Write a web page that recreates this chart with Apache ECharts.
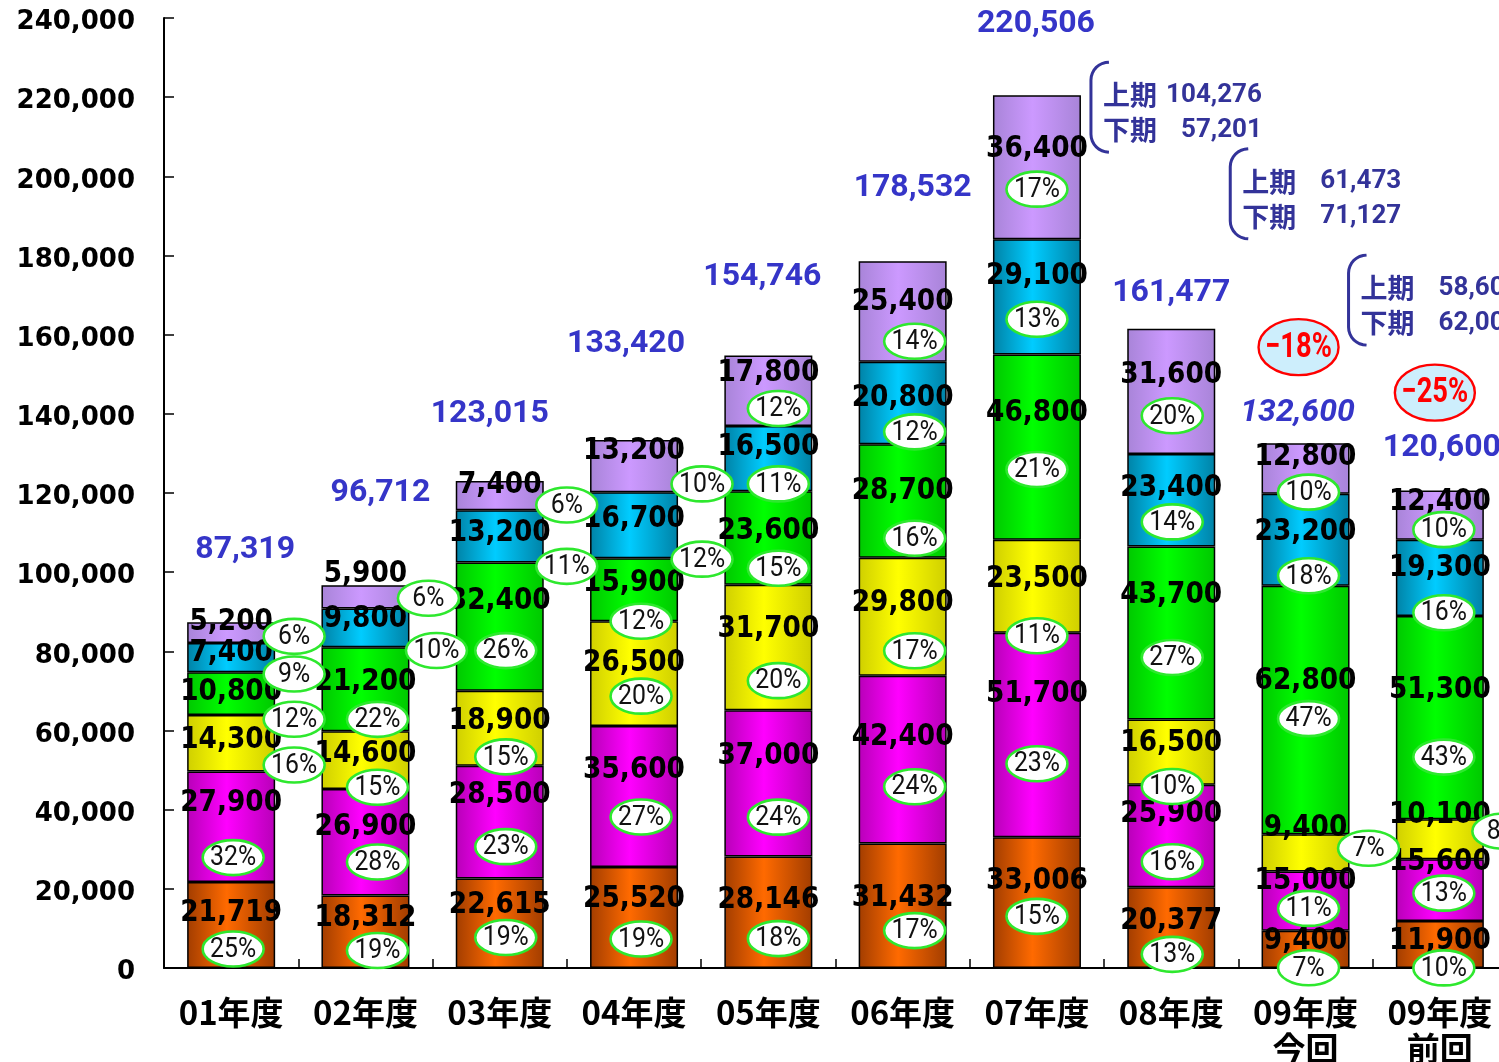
<!DOCTYPE html>
<html><head><meta charset="utf-8">
<script src="https://cdn.jsdelivr.net/npm/echarts@6/dist/echarts.min.js"></script>
<style>html,body{margin:0;padding:0;background:#fff}#c{width:1499px;height:1062px}</style>
</head><body><div id="c"></div>
<script>
// ---------------- data ----------------
const categories = ['01年度','02年度','03年度','04年度','05年度','06年度','07年度','08年度','09年度\n今回','09年度\n前回'];
const orangeValues   = [21719,18312,22615,25520,28146,31432,33006,20377, 9400,11900];
const magentaValues  = [27900,26900,28500,35600,37000,42400,51700,25900,15000,15600];
const yellowValues   = [14300,14600,18900,26500,31700,29800,23500,16500, 9400,10100];
const greenValues    = [10800,21200,32400,15900,23600,28700,46800,43700,62800,51300];
const blueValues     = [ 7400, 9800,13200,16700,16500,20800,29100,23400,23200,19300];
const lavenderValues = [ 5200, 5900, 7400,13200,17800,25400,36400,31600,12800,12400];
const orangePct   = [25,19,19,19,18,17,15,13, 7,10];
const magentaPct  = [32,28,23,27,24,24,23,16,11,13];
const yellowPct   = [16,15,15,20,20,17,11,10, 7, 8];
const greenPct    = [12,22,26,12,15,16,21,27,47,43];
const bluePct     = [ 9,10,11,12,11,12,13,14,18,16];
const lavenderPct = [ 6, 6, 6,10,12,14,17,20,10,10];
const totals = [87319,96712,123015,133420,154746,178532,220506,161477,132600,120600];
const yTickValues = [0,20000,40000,60000,80000,100000,120000,140000,160000,180000,200000,220000,240000];
const halfFirstLabel = '上期';
const halfSecondLabel = '下期';
const halfFirst  = [104276, 61473, 58600];
const halfSecond = [ 57201, 71127, 62000];
const changeLabels = ['−18%','−25%'];
const changeCats = [8, 9];
const halfCats = [6, 7, 8];

// ---------------- layout / style ----------------
const segStyles = [
  {edge:'#a23d00', mid:'#ff6a00'},
  {edge:'#b800b8', mid:'#ff00ff'},
  {edge:'#cfcf00', mid:'#ffff00'},
  {edge:'#00c800', mid:'#00ff00'},
  {edge:'#0082a6', mid:'#00ccff'},
  {edge:'#a884d8', mid:'#cc99ff'}
];
// label placement (pixels below the top of each segment), rows = categories, cols = segments bottom->top
const labelDy = [
  [28, 29, 22, 17, 7, -3],
  [20, 35, 20, 32, 8, -14],
  [24, 27, 27, 36, 20, 1],
  [29, 41, 39, 22, 24, 8],
  [41, 43, 42, 37, 18, 15],
  [52, 58, 42, 44, 33, 38],
  [41, 58, 37, 56, 34, 51],
  [31, 26, 21, 46, 31, 43],
  [7, 7, -9, 93, 35, 11],
  [17, 0, -7, 71, 25, 9]
];
const labelShift = 3;
const pctDy = [
  [67, 86, 50, 47, 31, 14],
  [55, 73, 56, 72, 42, 13],
  [59, 81, 66, 88, 56, 24],
  [72, 91, 75, 63, 67, 44],
  [82, 107, 96, 77, 58, 53],
  [87, 111, 93, 94, 70, 80],
  [79, 131, 96, 115, 80, 94],
  [67, 77, 67, 111, 68, 87],
  [37, 37, 14, 133, 82, 49],
  [47, 34, 12, 141, 73, 39]
];
const pctDxInside = [2, 12, 6, 7, 10, 12, 0, 1, 3, 4];
const pctDxOutside = {'2:0':63,'3:0':63,'4:0':63,'5:0':63,'4:1':71,'5:1':63,'4:2':67,'5:2':67,'4:3':68,'5:3':68,'2:8':63,'2:9':63};
const totalDx = [14,15,-10,-8,-6,10,-1,0,-8,2];
const totalDy = [-74,-94,-69,-98,-80,-75,-73,-38,-32,-45];
const totalItalic = [0,0,0,0,0,0,0,0,1,0];
const halfDx = [66, 71, 55];
const halfDy = [0, -147, -155];
const changeDx = [-7, -5];
const changeDy = [-96, -98];
const fmt = v => Number(v).toLocaleString('en-US');

const segValues = [orangeValues, magentaValues, yellowValues, greenValues, blueValues, lavenderValues];
const segPct = [orangePct, magentaPct, yellowPct, greenPct, bluePct, lavenderPct];
const segItems = [];
categories.forEach((c, i) => {
  let base = 0;
  segValues.forEach((arr, k) => { segItems.push([i, base, arr[i], segPct[k][i], k]); base += arr[i]; });
});

function segGeom(api) {
  const i = api.value(0), base = api.value(1), v = api.value(2), k = api.value(4);
  const top = api.coord([i, base + v]);
  const cx = top[0];
  const key = k + ':' + i;
  const px = cx + ((key in pctDxOutside) ? pctDxOutside[key] : pctDxInside[i]);
  return {cx, ly: top[1] + labelDy[i][k] + labelShift, px, py: top[1] + pctDy[i][k], v, pct: api.value(3)};
}

const chart = echarts.init(document.getElementById('c'), null, {renderer: 'canvas'});
const series = segValues.map((arr, k) => ({
  type: 'bar', stack: 'total', name: 'seg' + k, data: arr, barWidth: 88, z: 2,
  itemStyle: {
    color: {type: 'linear', x: 0, y: 0, x2: 1, y2: 0, colorStops: [
      {offset: 0, color: segStyles[k].edge}, {offset: 0.45, color: segStyles[k].mid}, {offset: 1, color: segStyles[k].edge}]},
    borderColor: '#000', borderWidth: 1.5
  },
  emphasis: {disabled: true}
}));

series.push({
  type: 'custom', name: 'valueLabels', data: segItems, z: 5, silent: true, encode: {x: 0, y: 1},
  renderItem(params, api) {
    const g = segGeom(api);
    return {type: 'text', x: g.cx, y: g.ly, scaleX: 0.88,
      style: {text: fmt(g.v), font: 'bold 30px "DejaVu Sans"', fill: '#000', align: 'center', verticalAlign: 'middle'}};
  }
});
series.push({
  type: 'custom', name: 'pctLabels', data: segItems, z: 6, silent: true, encode: {x: 0, y: 1},
  renderItem(params, api) {
    const g = segGeom(api);
    return {type: 'group', children: [
      {type: 'ellipse', shape: {cx: g.px, cy: g.py, rx: 30.5, ry: 17.5}, style: {fill: '#fff', stroke: '#2ee82e', lineWidth: 2.6}},
      {type: 'text', x: g.px, y: g.py + 1, scaleX: 0.92, style: {text: g.pct + '%', font: '27px Roboto', fill: '#111', align: 'center', verticalAlign: 'middle'}}
    ]};
  }
});
series.push({
  type: 'custom', name: 'totals', data: totals.map((t, i) => [i, t]), z: 7, silent: true, encode: {x: 0, y: 1},
  renderItem(params, api) {
    const i = api.value(0), t = api.value(1), p = api.coord([i, t]);
    return {type: 'text', x: p[0] + totalDx[i], y: p[1] + totalDy[i] + 2,
      style: {text: fmt(t), font: (totalItalic[i] ? 'italic ' : '') + 'bold 32px Roboto', fill: '#3535c8', align: 'center', verticalAlign: 'middle'}};
  }
});
series.push({
  type: 'custom', name: 'change', data: changeCats.map((c, j) => [c, totals[c], j]), z: 7, silent: true, encode: {x: 0, y: 1},
  renderItem(params, api) {
    const c = api.value(0), t = api.value(1), j = api.value(2), p = api.coord([c, t]);
    const x = p[0] + changeDx[j], y = p[1] + changeDy[j];
    return {type: 'group', children: [
      {type: 'ellipse', shape: {cx: x, cy: y, rx: 40, ry: 28}, style: {fill: '#cdeefc', stroke: '#ff0000', lineWidth: 2.4}},
      {type: 'text', x: x, y: y + 1, scaleX: 0.78, style: {text: changeLabels[j], font: 'bold 35px Roboto', fill: '#ff0000', align: 'center', verticalAlign: 'middle'}}
    ]};
  }
});
series.push({
  type: 'custom', name: 'halves', data: halfCats.map((c, j) => [c, totals[c], j]), z: 7, silent: true, encode: {x: 0, y: 1},
  renderItem(params, api) {
    const c = api.value(0), t = api.value(1), j = api.value(2), p = api.coord([c, t]);
    const tx = p[0] + halfDx[j], y1 = p[1] + halfDy[j], y2 = y1 + 35;
    const bx = tx - 12, top = y1 - 33, bot = y2 + 22, r = 18;
    const pts = [];
    for (let a = 0; a <= 8; a++) { const th = Math.PI / 2 * a / 8; pts.push([bx + r - r * Math.sin(th), top + r - r * Math.cos(th)]); }
    for (let a = 8; a >= 0; a--) { const th = Math.PI / 2 * a / 8; pts.push([bx + r - r * Math.sin(th), bot - r + r * Math.cos(th)]); }
    const col = '#333399';
    const tf = 'bold 27px "Noto Sans CJK JP"';
    const nf = 'bold 26px Roboto';
    return {type: 'group', children: [
      {type: 'polyline', shape: {points: pts}, style: {stroke: col, lineWidth: 3, fill: null}},
      {type: 'text', x: tx, y: y1, style: {text: halfFirstLabel, font: tf, fill: col, align: 'left', verticalAlign: 'middle'}},
      {type: 'text', x: tx, y: y2, style: {text: halfSecondLabel, font: tf, fill: col, align: 'left', verticalAlign: 'middle'}},
      {type: 'text', x: tx + 159, y: y1, style: {text: fmt(halfFirst[j]), font: nf, fill: col, align: 'right', verticalAlign: 'middle'}},
      {type: 'text', x: tx + 159, y: y2, style: {text: fmt(halfSecond[j]), font: nf, fill: col, align: 'right', verticalAlign: 'middle'}}
    ]};
  }
});

chart.setOption({
  animation: false,
  backgroundColor: '#fff',
  grid: {left: 164, right: -8, top: 18, bottom: 94, containLabel: false, outerBoundsMode: 'none'},
  xAxis: {
    type: 'category', data: categories,
    axisLine: {lineStyle: {color: '#000', width: 2}},
    axisTick: {show: true, inside: true, length: 9, lineStyle: {color: '#000', width: 1.5}},
    axisLabel: {margin: 26, color: '#000', fontFamily: '"Noto Sans CJK JP"', fontWeight: 'bold', fontSize: 33, lineHeight: 36, interval: 0},
    splitLine: {show: false}
  },
  yAxis: {
    type: 'value', min: yTickValues[0], max: yTickValues[yTickValues.length - 1], interval: yTickValues[1] - yTickValues[0],
    axisLine: {show: true, lineStyle: {color: '#000', width: 2}},
    axisTick: {show: true, inside: true, length: 10, lineStyle: {color: '#000', width: 1.5}},
    axisLabel: {margin: 29, color: '#000', formatter: v => '{a|' + fmt(v) + '}',
      rich: {a: {fontFamily: '"DejaVu Sans"', fontWeight: 'bold', fontSize: 26, color: '#000', padding: [9, 0, 0, 0]}}},
    splitLine: {show: false}
  },
  series: series
});
</script></body></html>
